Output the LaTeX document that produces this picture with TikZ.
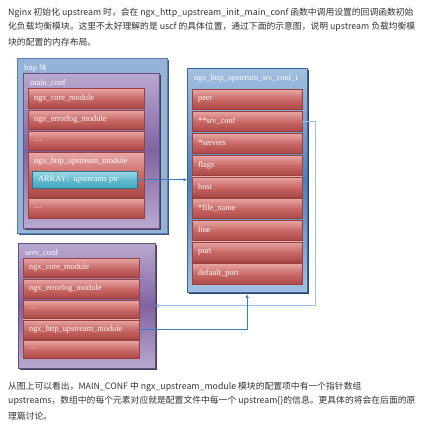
\documentclass[tikz,border=0pt]{standalone}
\usepackage{fontspec}
\setmainfont{Liberation Serif}
\newfontfamily\cjk{Noto Sans CJK SC}
\usetikzlibrary{arrows.meta,shadows}
\definecolor{httpfill}{HTML}{95B3D7}
\definecolor{httpdraw}{HTML}{5A7FB5}
\definecolor{purlight}{HTML}{B9A9CF}
\definecolor{purdark}{HTML}{8064A2}
\definecolor{redlight}{HTML}{E8A9A7}
\definecolor{redmid}{HTML}{C0504D}
\definecolor{reddark}{HTML}{7E2A28}
\definecolor{bluelight}{HTML}{A4BFE0}
\definecolor{bluemid}{HTML}{4F81BD}
\definecolor{cyanlight}{HTML}{9ADAE8}
\definecolor{cyanmid}{HTML}{3FA7C2}
\definecolor{linedark}{HTML}{3C7CC0}
\definecolor{linelight}{HTML}{9DC0E6}
\definecolor{txt}{HTML}{333333}
\tikzset{
  rowbox/.style={anchor=north west, draw=redmid!80!black, line width=0.3pt,
    top color=redlight, bottom color=redmid!90!black, middle color=redmid!85!white,
    general shadow={fill=reddark, shadow yshift=-1.2pt},
    inner xsep=6pt, inner ysep=0pt, align=left, text=white,
    font=\fontsize{8.3}{9}\selectfont},
  panelbox/.style={anchor=north west, inner sep=0pt},
  lbl/.style={anchor=west, inner sep=0pt, text=white, font=\fontsize{8.3}{9}\selectfont},
  para/.style={anchor=west, inner sep=0pt, text=txt, font=\cjk\fontsize{8.8}{10}\selectfont},
  conn/.style={draw=linedark, line width=0.6pt, -{Latex[length=3.5pt,width=3.5pt]}},
  connl/.style={draw=linelight, line width=0.6pt, -{Latex[length=3.5pt,width=3.5pt]}}
}
\begin{document}
\begin{tikzpicture}[x=1pt,y=-1pt]
\useasboundingbox[fill=white] (0,0) rectangle (433,424);
% text above
\node[para] (t1) at (8,13) {Nginx 初始化 upstream 时，会在 ngx\_http\_upstream\_init\_main\_conf 函数中调用设置的回调函数初始};
\node[para] (t2) at (8,27) {化负载均衡模块。这里不太好理解的是 uscf 的具体位置，通过下面的示意图，说明 upstream 负载均衡模};
\node[para] (t3) at (8,42) {块的配置的内存布局。};
% http block
\fill[httpdraw!70!black] (19,60) rectangle (169,235);
\node[panelbox, draw=httpdraw, fill=httpfill, minimum width=150pt, minimum height=175pt] (http) at (17,58) {};
\node[lbl] (httpl) at (24,68) {http {\cjk\fontsize{7.5}{9}\selectfont 块}};
% main_conf
\fill[purdark!60!black] (25,75) rectangle (161,230);
\node[panelbox, draw=purdark!80!black, line width=0.3pt, top color=purlight, bottom color=purlight, middle color=purdark, minimum width=136pt, minimum height=155pt] (mainc) at (23,73) {};
\node[lbl] (maincl) at (30,83) {main\_conf};
\node[rowbox, text width=104pt, minimum height=20pt] (m1) at (28,88) {ngx\_core\_module};
\node[rowbox, text width=104pt, minimum height=19pt] (m2) at (28,110) {ngx\_errorlog\_module};
\node[rowbox, text width=104pt, minimum height=19pt] (m3) at (28,131) {\dots};
\node[rowbox, text width=104pt, minimum height=45pt] (m4) at (28,152) {};
\node[lbl] (m4l) at (34,162) {ngx\_http\_upstream\_module};
\node[anchor=north west, draw=cyanmid!70!black, line width=0.3pt, top color=cyanlight, bottom color=cyanmid, middle color=cyanmid!80!white,
  general shadow={fill=cyanmid!40!black, shadow yshift=-1.2pt, shadow xshift=0.8pt},
  minimum width=105pt, minimum height=17pt, inner sep=0pt] (arr) at (32,171) {};
\node[lbl] (arrl) at (38,179.5) {ARRAY{\cjk\fontsize{7}{9}\selectfont ：}upstreams ptr};
\node[rowbox, text width=104pt, minimum height=20pt] (m5) at (28,198) {\dots};
% srv conf t
\fill[bluemid!55!black] (189,70) rectangle (309,294);
\node[panelbox, draw=bluemid!80!black, line width=0.3pt, top color=bluelight, bottom color=bluelight, middle color=bluemid, minimum width=120pt, minimum height=224pt] (srv) at (187,68) {};
\node[lbl, anchor=center] (srvl) at (246,78) {ngx\_http\_upstream\_srv\_conf\_t};
\node[rowbox, text width=98pt, minimum height=20pt] (s1) at (192,89) {peer};
\node[rowbox, text width=98pt, minimum height=20pt] (s2) at (192,111) {**srv\_conf};
\node[rowbox, text width=98pt, minimum height=20pt] (s3) at (192,133) {*servers};
\node[rowbox, text width=98pt, minimum height=20pt] (s4) at (192,155) {flags};
\node[rowbox, text width=98pt, minimum height=20pt] (s5) at (192,176.5) {host};
\node[rowbox, text width=98pt, minimum height=20pt] (s6) at (192,198) {*file\_name};
\node[rowbox, text width=98pt, minimum height=20pt] (s7) at (192,220) {line};
\node[rowbox, text width=98pt, minimum height=20pt] (s8) at (192,241.5) {port};
\node[rowbox, text width=98pt, minimum height=21pt] (s9) at (192,263) {default\_port};
% serv_conf
\fill[purdark!60!black] (20,245) rectangle (157,370);
\node[panelbox, draw=purdark!80!black, line width=0.3pt, top color=purlight, bottom color=purlight, middle color=purdark, minimum width=137pt, minimum height=125pt] (serv) at (18,243) {};
\node[lbl] (servl) at (25,253) {serv\_conf};
\node[rowbox, text width=104pt, minimum height=19pt] (v1) at (23,258) {ngx\_core\_module};
\node[rowbox, text width=104pt, minimum height=19pt] (v2) at (23,279) {ngx\_errorlog\_module};
\node[rowbox, text width=104pt, minimum height=18pt] (v3) at (23,300) {\dots};
\node[rowbox, text width=104pt, minimum height=19pt] (v4) at (23,319.5) {ngx\_http\_upstream\_module};
\node[rowbox, text width=104pt, minimum height=18pt] (v5) at (23,340) {\dots};
% connectors
\coordinate (rt) at (315,0);
\draw[conn] (arr.east) -- (arr.east -| srv.west);
\draw[connl] (s2.east) -- (s2.east -| rt) |- (serv.east);
\draw[conn] (v4.east) -| ([yshift=-2pt]srv.south);
% text below
\node[para] (b1) at (8,387) {从图上可以看出，MAIN\_CONF 中 ngx\_upstream\_module 模块的配置项中有一个指针数组};
\node[para] (b2) at (8,401) {upstreams，数组中的每个元素对应就是配置文件中每一个 upstream\{\}的信息。更具体的将会在后面的原};
\node[para] (b3) at (8,416) {理篇讨论。};
\end{tikzpicture}
\end{document}
